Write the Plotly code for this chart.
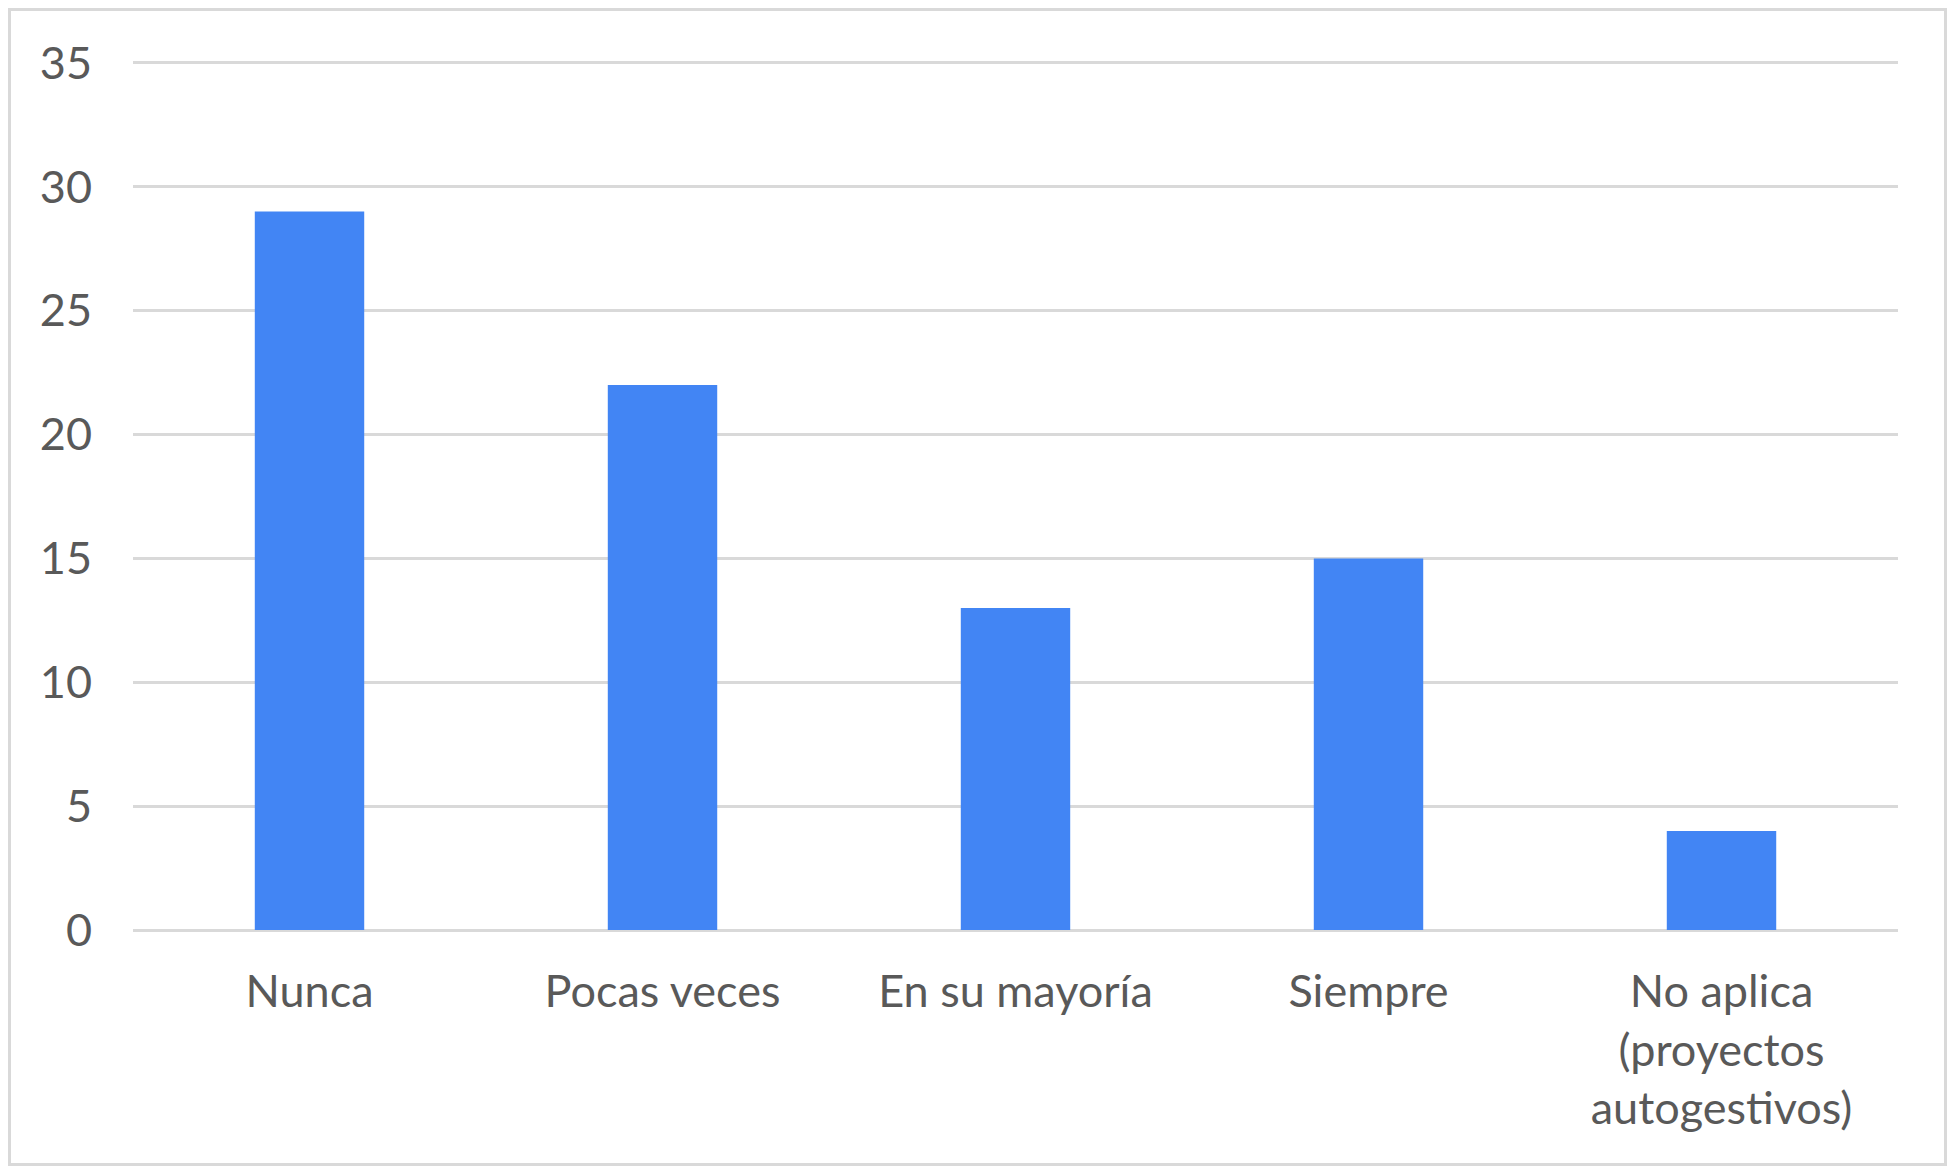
import plotly.graph_objects as go

categories = ["Nunca", "Pocas veces", "En su mayoría", "Siempre", "No aplica<br>(proyectos<br>autogestivos)"]
values = [29, 22, 13, 15, 4]
y_ticks = [0, 5, 10, 15, 20, 25, 30, 35]

# page body has an 8px margin; figure sized to fit inside the 1955x1174 window
W, H = 1939, 1158
ml, mt = 125, 53
mr = W - 1890
mb = H - 922
pw, ph = W - ml - mr, H - mt - mb

fig = go.Figure(go.Bar(x=categories, y=values, marker=dict(color="#4285F4", line=dict(width=0)), width=0.31))

font = dict(family="Lato", size=45, color="#595959")
fig.update_layout(
    width=W, height=H,
    margin=dict(l=ml, r=mr, t=mt, b=mb),
    paper_bgcolor="white", plot_bgcolor="white",
    showlegend=False,
    bargap=0.69,
    xaxis=dict(tickfont=font, showgrid=False, zeroline=False, showline=False, ticks="",
               ticklabelstandoff=31, automargin=False),
    yaxis=dict(range=[0, 35.08], tickvals=y_ticks, tickfont=font, showgrid=True, gridcolor="#d9d9d9",
               gridwidth=3, zeroline=True, zerolinecolor="#d9d9d9", zerolinewidth=3,
               showline=False, ticks="", ticklabelstandoff=40, automargin=False),
    shapes=[dict(type="rect", xref="paper", yref="paper",
                 x0=(1.5 - ml) / pw, x1=(W - 1.5 - ml) / pw,
                 y0=(1.5 - mb) / ph, y1=(H - 1.5 - mb) / ph,
                 line=dict(color="#d9d9d9", width=3), fillcolor="rgba(0,0,0,0)", layer="below")],
)

fig.write_html("out.html")
